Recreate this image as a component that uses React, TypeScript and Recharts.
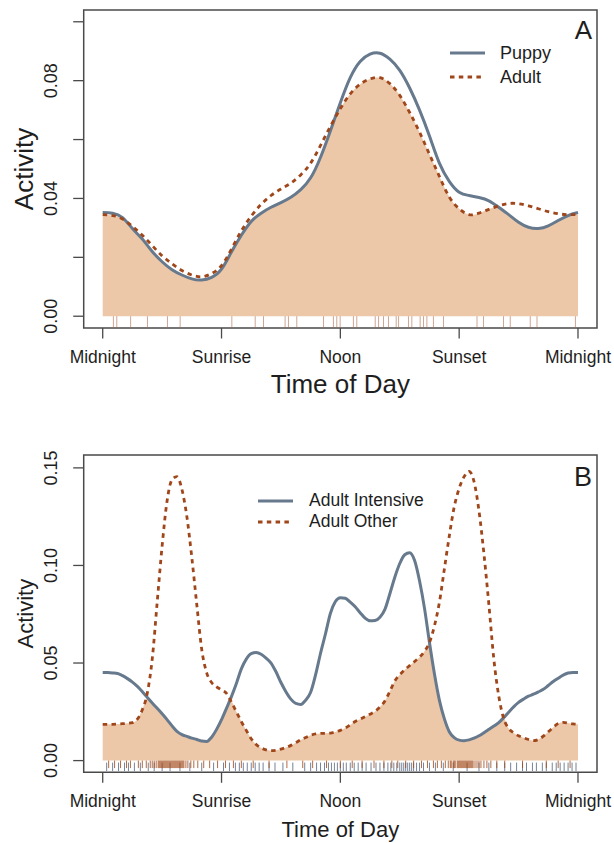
import React from 'react';
import { ComposedChart, Area, Line, Scatter, XAxis, YAxis, ReferenceArea, Legend, Label } from 'recharts';

const FONT = '"Liberation Sans", Arial, Helvetica, sans-serif';

// ---------- shared ----------
const timeTicks = [0, 6, 12, 18, 24];
const timeTickLabels = ['Midnight', 'Sunrise', 'Noon', 'Sunset', 'Midnight'];

// ---------- panel A ----------
const hoursA = [0, 0.5, 1, 1.5, 2, 2.5, 3, 3.5, 4, 4.5, 5, 5.5, 6, 6.5, 7, 7.5, 8, 8.5, 9, 9.5, 10, 10.5, 11, 11.5, 12, 12.5, 13, 13.5, 14, 14.5, 15, 15.5, 16, 16.5, 17, 17.5, 18, 18.5, 19, 19.5, 20, 20.5, 21, 21.5, 22, 22.5, 23, 23.5, 24];
const puppy = [0.0352, 0.0350, 0.0335, 0.0298, 0.0262, 0.0220, 0.0185, 0.0158, 0.0140, 0.0127, 0.0123, 0.0132, 0.0160, 0.0218, 0.0275, 0.0322, 0.0350, 0.0370, 0.0386, 0.0404, 0.0430, 0.0470, 0.0540, 0.0630, 0.0725, 0.0810, 0.0865, 0.0890, 0.0893, 0.0873, 0.0835, 0.0775, 0.0700, 0.0612, 0.0520, 0.0458, 0.0421, 0.0410, 0.0403, 0.0392, 0.0370, 0.0345, 0.0319, 0.0302, 0.0298, 0.0307, 0.0325, 0.0342, 0.0352];
const adult = [0.0345, 0.0342, 0.0330, 0.0305, 0.0275, 0.0240, 0.0205, 0.0178, 0.0155, 0.0140, 0.0134, 0.0145, 0.0172, 0.0228, 0.0290, 0.0340, 0.0380, 0.0410, 0.0432, 0.0452, 0.0480, 0.0520, 0.0580, 0.0645, 0.0705, 0.0755, 0.0788, 0.0806, 0.0810, 0.0790, 0.0750, 0.0692, 0.0625, 0.0550, 0.0475, 0.0405, 0.0365, 0.0345, 0.0350, 0.0363, 0.0375, 0.0383, 0.0382, 0.0375, 0.0365, 0.0355, 0.0348, 0.0345, 0.0345];
const rugA = [0.54, 0.71, 1.41, 2.26, 3.27, 3.91, 6.52, 7.70, 8.12, 9.21, 9.38, 9.80, 11.15, 11.65, 11.82, 11.99, 12.66, 12.83, 13.76, 13.93, 14.18, 14.43, 14.82, 14.94, 15.44, 15.61, 16.03, 16.20, 16.37, 16.70, 17.21, 18.90, 19.23, 20.24, 20.58, 21.59, 21.93, 23.87];
const yTicksA = [0, 0.02, 0.04, 0.06, 0.08, 0.1];
const yTickLabelsA = ['0.00', '', '0.04', '', '0.08', ''];
const legendA = ['Puppy', 'Adult'];

// ---------- panel B ----------
const hoursB = [
  0, 0.25, 0.5, 0.75, 1, 1.25, 1.5, 1.75, 2, 2.25, 2.5, 2.75, 3, 3.25, 3.5, 3.75,
  4, 4.25, 4.5, 4.75, 5, 5.25, 5.5, 5.75, 6, 6.25, 6.5, 6.75, 7, 7.25, 7.5, 7.75,
  8, 8.25, 8.5, 8.75, 9, 9.25, 9.5, 9.75, 10, 10.25, 10.5, 10.75, 11, 11.25, 11.5, 11.75,
  12, 12.25, 12.5, 12.75, 13, 13.25, 13.5, 13.75, 14, 14.25, 14.5, 14.75, 15, 15.25, 15.5, 15.75,
  16, 16.25, 16.5, 16.75, 17, 17.25, 17.5, 17.75, 18, 18.25, 18.5, 18.75, 19, 19.25, 19.5, 19.75,
  20, 20.25, 20.5, 20.75, 21, 21.25, 21.5, 21.75, 22, 22.25, 22.5, 22.75, 23, 23.25, 23.5, 23.75, 24];
const adultIntensive = [
  0.0452, 0.0451, 0.0449, 0.0446, 0.0435, 0.0420, 0.0402, 0.0380, 0.0353, 0.0324, 0.0295, 0.0268, 0.0240, 0.0210, 0.0178, 0.0150,
  0.0133, 0.0124, 0.0115, 0.0108, 0.0100, 0.0098, 0.0120, 0.0160, 0.0210, 0.0268, 0.0328, 0.0395, 0.0470, 0.0520, 0.0548, 0.0554,
  0.0545, 0.0525, 0.0500, 0.0455, 0.0400, 0.0353, 0.0315, 0.0293, 0.0288, 0.0310, 0.0350, 0.0440, 0.0550, 0.0650, 0.0755, 0.0815,
  0.0835, 0.0832, 0.0812, 0.0788, 0.0758, 0.0730, 0.0716, 0.0718, 0.0735, 0.0775, 0.0855, 0.0940, 0.1010, 0.1055, 0.1065, 0.1025,
  0.0920, 0.0780, 0.0605, 0.0445, 0.0310, 0.0215, 0.0148, 0.0118, 0.0105, 0.0102, 0.0106, 0.0115, 0.0127, 0.0143, 0.0160, 0.0177,
  0.0195, 0.0220, 0.0248, 0.0275, 0.0298, 0.0315, 0.0330, 0.0340, 0.0352, 0.0365, 0.0385, 0.0405, 0.0422, 0.0438, 0.0449, 0.0452, 0.0452];
const adultOther = [
  0.0186, 0.0186, 0.0186, 0.0187, 0.0189, 0.0191, 0.0194, 0.0212, 0.0260, 0.0345, 0.0520, 0.0810, 0.1100, 0.1330, 0.1440, 0.1455,
  0.1390, 0.1250, 0.1040, 0.0800, 0.0570, 0.0450, 0.0400, 0.0378, 0.0362, 0.0345, 0.0300, 0.0250, 0.0200, 0.0155, 0.0112, 0.0082,
  0.0065, 0.0055, 0.0051, 0.0053, 0.0059, 0.0067, 0.0078, 0.0092, 0.0106, 0.0118, 0.0130, 0.0137, 0.0139, 0.0140, 0.0141, 0.0147,
  0.0155, 0.0167, 0.0183, 0.0200, 0.0212, 0.0225, 0.0238, 0.0252, 0.0275, 0.0305, 0.0355, 0.0408, 0.0440, 0.0465, 0.0487, 0.0508,
  0.0530, 0.0560, 0.0605, 0.0690, 0.0810, 0.0980, 0.1150, 0.1300, 0.1395, 0.1455, 0.1482, 0.1430, 0.1280, 0.1060, 0.0800, 0.0520,
  0.0330, 0.0215, 0.0165, 0.0142, 0.0127, 0.0117, 0.0108, 0.0102, 0.0108, 0.0125, 0.0148, 0.0170, 0.0190, 0.0196, 0.0192, 0.0188, 0.0186];
const rugOtherB = [0.3, 0.6, 0.9, 1.2, 1.4, 1.8, 2.0, 2.2, 2.4, 2.5, 2.6, 2.7, 2.8, 2.85, 2.9, 2.95, 3.0, 3.05, 3.1, 3.15, 3.2, 3.25, 3.3, 3.35, 3.4, 3.45, 3.5, 3.55, 3.6, 3.65, 3.7, 3.75, 3.8, 3.85, 3.9, 3.95, 4.0, 4.05, 4.1, 4.2, 4.3, 4.45, 4.6, 4.8, 5.1, 5.4, 5.8, 6.2, 6.6, 7.0, 7.6, 8.4, 9.3, 10.1, 10.6, 11.3, 12.0, 12.6, 13.1, 13.7, 14.2, 14.6, 14.9, 15.3, 15.7, 16.1, 16.4, 16.7, 16.9, 17.1, 17.3, 17.45, 17.55, 17.6, 17.7, 17.75, 17.8, 17.9, 17.95, 18.0, 18.05, 18.1, 18.15, 18.2, 18.25, 18.3, 18.35, 18.4, 18.45, 18.5, 18.55, 18.6, 18.65, 18.7, 18.8, 18.9, 19.0, 19.1, 19.25, 19.4, 19.6, 19.9, 20.3, 21.2, 22.4, 23.0, 23.6];
const rugIntensiveB = [0.2, 0.5, 0.8, 1.1, 1.3, 1.6, 1.9, 2.3, 2.6, 3.0, 3.4, 3.9, 4.4, 5.0, 5.6, 6.1, 6.4, 6.7, 6.9, 7.1, 7.3, 7.5, 7.7, 7.9, 8.1, 8.4, 8.7, 9.1, 9.6, 10.2, 10.5, 10.8, 11.0, 11.2, 11.4, 11.55, 11.7, 11.85, 12.0, 12.15, 12.3, 12.5, 12.7, 12.9, 13.1, 13.3, 13.55, 13.8, 14.0, 14.2, 14.4, 14.55, 14.7, 14.85, 15.0, 15.1, 15.2, 15.3, 15.4, 15.5, 15.6, 15.7, 15.85, 16.0, 16.2, 16.5, 16.8, 17.2, 17.7, 18.4, 19.0, 19.5, 19.9, 20.3, 20.6, 20.9, 21.2, 21.4, 21.7, 21.9, 22.2, 22.4, 22.7, 22.9, 23.1, 23.3, 23.5, 23.7, 23.9];
const yTicksB = [0, 0.05, 0.1, 0.15];
const yTickLabelsB = ['0.00', '0.05', '0.10', '0.15'];
const legendB = ['Adult Intensive', 'Adult Other'];

// ---------- styling ----------
const BLUE = '#66798d';
const BROWN = '#a0461b';
const FILL = '#ecc8a9';
const BOX = '#4a4a4a';
const TEXT = '#1e1e1e';
const DASH = '4.5 4.3';

const X_DOMAIN: [number, number] = [-0.96, 24.96];

const dataA = hoursA.map((h, i) => ({ h, puppy: puppy[i], adult: adult[i], overlap: Math.min(puppy[i], adult[i]) }));
const dataB = hoursB.map((h, i) => ({ h, intensive: adultIntensive[i], other: adultOther[i], overlap: Math.min(adultIntensive[i], adultOther[i]) }));
const rugDataA = rugA.map((h) => ({ h, y: 0 }));
const rugDataOtherB = rugOtherB.map((h) => ({ h, y: 0 }));
const rugDataIntensiveB = rugIntensiveB.map((h) => ({ h, y: 0 }));

const rugShape = (color: string, from: number, to: number) => (p: any) => (
  <line x1={p.cx} x2={p.cx} y1={p.cy + from} y2={p.cy + to} stroke={color} strokeWidth={1} />
);

const makeYTick = (labels: string[], fontSize: number) => (props: any) => {
  const { x, y, index } = props;
  const label = labels[index];
  if (!label) return <g />;
  const bx = x - 16.5;
  return (
    <text x={bx} y={y} transform={`rotate(-90, ${bx}, ${y})`} textAnchor="middle" fontSize={fontSize} fontFamily={FONT} fill={TEXT}>
      {label}
    </text>
  );
};

const LegendBox = ({ names, rowH, fontSize, gap }: { names: string[]; rowH: number; fontSize: number; gap: number }) => (
  <div style={{ fontFamily: FONT, fontSize, color: TEXT }}>
    {names.map((n, i) => (
      <div key={n} style={{ display: 'flex', alignItems: 'center', height: rowH, whiteSpace: 'nowrap' }}>
        <svg width={35} height={6} style={{ display: 'block' }}>
          <line x1={0} x2={35} y1={3} y2={3} stroke={i === 0 ? BLUE : BROWN} strokeWidth={i === 0 ? 3 : 2.8} strokeDasharray={i === 0 ? undefined : DASH} />
        </svg>
        <span style={{ marginLeft: gap, lineHeight: `${rowH}px` }}>{n}</span>
      </div>
    ))}
  </div>
);

type PanelProps = {
  data: any[];
  keys: [string, string];
  curve: 'natural' | 'monotone';
  yDomain: [number, number];
  yTicks: number[];
  yTickLabels: string[];
  rugs: { data: any[]; color: string; from: number; to: number }[];
  margin: { top: number; right: number; bottom: number; left: number };
  height: number;
  letter: string;
  letterDy: number;
  letterSize: number;
  yTitleSize: number;
  yTitleDx: number;
  xTitleSize: number;
  xTitleDy: number;
  tickMarginX: number;
  legendNames: string[];
  legendPos: { left: number; top: number };
  legendRowH: number;
  legendFont: number;
  legendGap: number;
};

const Panel = (p: PanelProps) => (
  <ComposedChart width={614} height={p.height} data={p.data} margin={p.margin}>
    <XAxis
      dataKey="h"
      type="number"
      domain={X_DOMAIN}
      allowDataOverflow
      ticks={timeTicks}
      interval={0}
      tickFormatter={(v: number, i: number) => timeTickLabels[i]}
      tick={{ fontSize: 17.5, fill: TEXT, fontFamily: FONT }}
      tickLine={{ stroke: BOX, strokeWidth: 1.3 }}
      tickSize={10.5}
      tickMargin={p.tickMarginX}
      axisLine={false}
      height={60}
    >
      <Label
        content={(lp: any) => {
          const vb = lp.viewBox;
          return (
            <text x={vb.x + vb.width / 2} y={vb.y + p.xTitleDy} textAnchor="middle" fontSize={p.xTitleSize} fontFamily={FONT} fill={TEXT}>
              Time of Day
            </text>
          );
        }}
      />
    </XAxis>
    <YAxis
      type="number"
      domain={p.yDomain}
      allowDataOverflow
      ticks={p.yTicks}
      interval={0}
      tick={makeYTick(p.yTickLabels, 18)}
      tickLine={{ stroke: BOX, strokeWidth: 1.3 }}
      tickSize={10.5}
      tickMargin={0}
      axisLine={false}
      width={60}
    >
      <Label
        content={(lp: any) => {
          const vb = lp.viewBox;
          const bx = vb.x + p.yTitleDx;
          const cy = vb.y + vb.height / 2;
          return (
            <text x={bx} y={cy} transform={`rotate(-90, ${bx}, ${cy})`} textAnchor="middle" fontSize={p.yTitleSize} fontFamily={FONT} fill={TEXT}>
              Activity
            </text>
          );
        }}
      />
    </YAxis>
    <Area type={p.curve} dataKey="overlap" fill={FILL} fillOpacity={1} stroke="none" baseValue={0} isAnimationActive={false} />
    {p.rugs.map((r, i) => (
      <Scatter key={i} data={r.data} dataKey="y" shape={rugShape(r.color, r.from, r.to)} isAnimationActive={false} />
    ))}
    <Line type={p.curve} dataKey={p.keys[0]} stroke={BLUE} strokeWidth={3} dot={false} isAnimationActive={false} />
    <Line type={p.curve} dataKey={p.keys[1]} stroke={BROWN} strokeWidth={2.8} strokeDasharray={DASH} dot={false} isAnimationActive={false} />
    <ReferenceArea
      x1={X_DOMAIN[0]}
      x2={X_DOMAIN[1]}
      y1={p.yDomain[0]}
      y2={p.yDomain[1]}
      fill="none"
      stroke={BOX}
      strokeWidth={1.5}
      ifOverflow="visible"
    >
      <Label
        content={(lp: any) => {
          const vb = lp.viewBox;
          return (
            <text x={vb.x + vb.width - 5} y={vb.y + p.letterDy} textAnchor="end" fontSize={p.letterSize} fontFamily={FONT} fill={TEXT}>
              {p.letter}
            </text>
          );
        }}
      />
    </ReferenceArea>
    <Legend
      layout="vertical"
      align="center"
      verticalAlign="middle"
      wrapperStyle={{ left: p.legendPos.left, top: p.legendPos.top, width: 'auto', height: 'auto' }}
      content={() => <LegendBox names={p.legendNames} rowH={p.legendRowH} fontSize={p.legendFont} gap={p.legendGap} />}
    />
  </ComposedChart>
);

export default function App() {
  return (
    <div style={{ position: 'absolute', left: 0, top: 0, width: 614, height: 843, background: '#fff' }}>
      <div style={{ position: 'absolute', left: 0, top: 0 }}>
        <Panel
          data={dataA}
          keys={['puppy', 'adult']}
          curve="natural"
          yDomain={[-0.004, 0.104]}
          yTicks={yTicksA}
          yTickLabels={yTickLabelsA}
          rugs={[{ data: rugDataA, color: 'rgba(175,105,75,0.6)', from: 0, to: 11.5 }]}
          margin={{ top: 10, right: 17, bottom: 32, left: 23.7 }}
          height={420}
          letter="A"
          letterDy={29}
          letterSize={26}
          yTitleSize={26}
          yTitleDx={8.8}
          xTitleSize={26}
          xTitleDy={65}
          tickMarginX={12}
          legendNames={legendA}
          legendPos={{ left: 450, top: 41 }}
          legendRowH={24}
          legendFont={18}
          legendGap={15}
        />
      </div>
      <div style={{ position: 'absolute', left: 0, top: 420 }}>
        <Panel
          data={dataB}
          keys={['intensive', 'other']}
          curve="monotone"
          yDomain={[-0.006, 0.1566]}
          yTicks={yTicksB}
          yTickLabels={yTickLabelsB}
          rugs={[
            { data: rugDataIntensiveB, color: 'rgba(70,90,120,0.75)', from: 2, to: 10.5 },
            { data: rugDataOtherB, color: 'rgba(160,70,20,0.8)', from: 0, to: 7.5 },
          ]}
          margin={{ top: 35, right: 17, bottom: 10.7, left: 23.7 }}
          height={423}
          letter="B"
          letterDy={31}
          letterSize={27}
          yTitleSize={22}
          yTitleDx={9.3}
          xTitleSize={22}
          xTitleDy={64.7}
          tickMarginX={12}
          legendNames={legendB}
          legendPos={{ left: 258, top: 70.2 }}
          legendRowH={21}
          legendFont={17.5}
          legendGap={16}
        />
      </div>
    </div>
  );
}
